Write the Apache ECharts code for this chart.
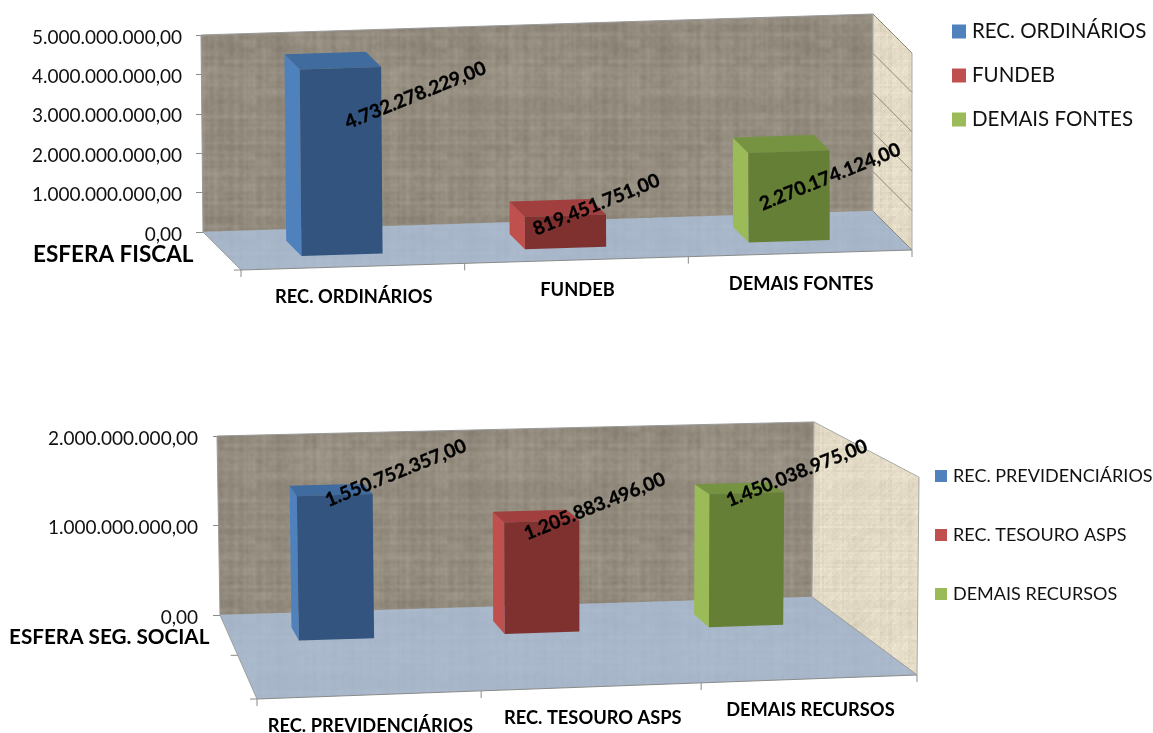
<!DOCTYPE html>
<html lang="pt-BR">
<head>
<meta charset="utf-8">
<title>Receitas por fonte</title>
<style>
  html, body { margin: 0; padding: 0; background: #fff; }
  #chart { width: 1153px; height: 733px; }
</style>
<script src="https://cdn.jsdelivr.net/npm/echarts@6/dist/echarts.min.js"></script>
</head>
<body>
<div id="chart"></div>
<script>
// Values for each sphere of the budget
const fiscalCategories = ['REC. ORDINÁRIOS', 'FUNDEB', 'DEMAIS FONTES'];
const fiscalValues = [4732278229, 819451751, 2270174124];
const fiscalTicks = [0, 1000000000, 2000000000, 3000000000, 4000000000, 5000000000];

const socialCategories = ['REC. PREVIDENCIÁRIOS', 'REC. TESOURO ASPS', 'DEMAIS RECURSOS'];
const socialValues = [1550752357, 1205883496, 1450038975];
const socialTicks = [0, 1000000000, 2000000000];

const FONT = 'Lato, "Open Sans", sans-serif';

// Shading of each column: front, top and left faces, plus the legend swatch
const faces = [
  { swatch: '#4F81BD', front: '#32547E', top: '#3F6B9F', side: '#4F81BD' },
  { swatch: '#C0504D', front: '#7F3130', top: '#A03F3D', side: '#C0504D' },
  { swatch: '#9BBB59', front: '#667F36', top: '#759340', side: '#9BBB59' }
];

// Woven fill used by the walls and the floor, built from a repeatable hash and softened
function weave(rgb, amount, diagonal, soften) {
  const size = 192;
  const raw = document.createElement('canvas');
  raw.width = raw.height = size;
  const g = raw.getContext('2d');
  const hash = (a, b) => {
    const s = Math.sin(a * 12.9898 + b * 78.233) * 43758.5453;
    return s - Math.floor(s);
  };
  const img = g.createImageData(size, size);
  for (let y = 0; y < size; y++) {
    for (let x = 0; x < size; x++) {
      const col = hash(x >> 1, 3) - 0.5;
      const row = hash(7, y >> 1) - 0.5;
      const fine = hash(x >> 1, y >> 1) - 0.5;
      const patch = hash(x >> 4, y >> 3) - 0.5;
      const diag = diagonal ? hash((x + y) % size, 11) - 0.5 : 0;
      const d = amount * (col * 0.7 + row * 0.7 + fine * 0.6 + patch * 0.4 + diag * 0.6);
      const i = (x + y * size) * 4;
      img.data[i] = rgb[0] + d;
      img.data[i + 1] = rgb[1] + d;
      img.data[i + 2] = rgb[2] + d;
      img.data[i + 3] = 255;
    }
  }
  g.putImageData(img, 0, 0);

  const out = document.createElement('canvas');
  out.width = out.height = size;
  const o = out.getContext('2d');
  o.fillStyle = 'rgb(' + rgb.join(',') + ')';
  o.fillRect(0, 0, size, size);
  o.filter = 'blur(' + soften + 'px)';
  // Draw wrapped copies so the softened tile still repeats without seams
  for (let ox = -size; ox <= size; ox += size) {
    for (let oy = -size; oy <= size; oy += size) {
      o.drawImage(raw, ox, oy);
    }
  }
  return { image: out, repeat: 'repeat' };
}
const backWallFill = weave([149, 142, 128], 20, false, 0.9);
const sideWallFill = weave([226, 218, 196], 12, true, 0.7);
const floorFill = weave([168, 184, 202], 6, false, 1);

function money(v) {
  const whole = String(Math.round(v)).replace(/\B(?=(\d{3})+$)/g, '.');
  return whole + ',00';
}

const lerp = (a, b, t) => a + (b - a) * t;

// Scene set-up of one chart: the grid is the back wall, straightened
const scenes = [
  {
    categories: fiscalCategories, values: fiscalValues, ticks: fiscalTicks, maxValue: 5000000000,
    grid: { left: 203, top: 35, width: 670, height: 197 },
    rise: 21, heightRight: 1, lean: [-2, 0], shiftX: [38, 39], shiftY: [38, 39], grow: 0, bend: 0,
    barDepth: [0.29, 0.69], barRatio: 0.363, barShift: 1, depthTicks: [1], sideLines: true,
    labelNudge: [[76, 27], [32, -11], [42, 25]],
    legendPos: { left: 952, top: 21 }, legendIcon: 14, legendGap: 23, legendFont: 20.5,
    title: 'ESFERA FISCAL', titlePos: { left: 33, top: 243 }, titleFont: 22.5,
    tickMargin: 21, footDrop: 30.5
  },
  {
    categories: socialCategories, values: socialValues, ticks: socialTicks, maxValue: 2000000000,
    grid: { left: 220, top: 436, width: 592, height: 179 },
    rise: 18, heightRight: 0.978, lean: [-3, 2], shiftX: [37, 105], shiftY: [84, 78], grow: 0.13, bend: 4.8,
    barDepth: [0.17, 0.33], barRatio: 0.365, barShift: 1, depthTicks: [0.48, 1], sideLines: false,
    labelNudge: [[62, -22], [54, -15], [51, -20]],
    legendPos: { left: 935, top: 467 }, legendIcon: 12, legendGap: 41, legendFont: 18,
    title: 'ESFERA SEG. SOCIAL', titlePos: { left: 9, top: 627 }, titleFont: 20.7,
    tickMargin: 22, footDrop: 31
  }
];

// Carries a point of the straightened wall into the tilted scene; depth runs 0 (back) to 1 (front)
function projector(scene, rect) {
  const y0 = rect.y + rect.height;
  return function (x, y, depth) {
    const u = (x - rect.x) / rect.width;
    const h = y0 - y;
    const px = x + lerp(scene.lean[0], scene.lean[1], u) * (h / rect.height)
      + (lerp(scene.shiftX[0], scene.shiftX[1], u) + scene.bend * Math.sin(Math.PI * u)) * depth;
    const py = y0 - scene.rise * u + lerp(scene.shiftY[0], scene.shiftY[1], u) * depth
      - h * lerp(1, scene.heightRight, u) * (1 + scene.grow * depth);
    return [px, py];
  };
}

function poly(points, fill, stroke) {
  return {
    type: 'polygon',
    shape: { points: points },
    style: { fill: fill, stroke: stroke || null, lineWidth: stroke ? 1 : 0 },
    silent: true
  };
}
function line(a, b, color) {
  return {
    type: 'line',
    shape: { x1: a[0], y1: a[1], x2: b[0], y2: b[1] },
    style: { stroke: color, lineWidth: 1 },
    silent: true
  };
}

// Walls, floor and the tick marks of the depth and category axes
function renderRoom(scene) {
  return function (params, api) {
    const r = params.coordSys;
    const P = projector(scene, r);
    const xL = r.x, xR = r.x + r.width, yB = r.y + r.height, yT = r.y;
    const edge = '#8a8a8a';
    const kids = [
      poly([P(xL, yT, 0), P(xR, yT, 0), P(xR, yB, 0), P(xL, yB, 0)], backWallFill, '#9a9a9a'),
      poly([P(xR, yT, 0), P(xR, yT, 1), P(xR, yB, 1), P(xR, yB, 0)], sideWallFill, '#a8a8a8'),
      poly([P(xL, yB, 0), P(xR, yB, 0), P(xR, yB, 1), P(xL, yB, 1)], floorFill)
    ];
    kids.push(line(P(xL, yB, 1), P(xR, yB, 1), edge));
    kids.push(line(P(xL, yB, 0), P(xL, yB, 1), '#a0a0a0'));
    kids.push(line(P(xR, yB, 0), P(xR, yB, 1), '#a0a0a0'));
    if (scene.sideLines) {
      scene.ticks.forEach(function (t) {
        const y = api.coord([0, t])[1];
        kids.push(line(P(xR, y, 0), P(xR, y, 1), '#8f8a7c'));
      });
    }
    const band = r.width / scene.categories.length;
    for (let i = 0; i <= scene.categories.length; i++) {
      const p = P(xL + band * i, yB, 1);
      kids.push(line(p, [p[0], p[1] + 7], edge));
    }
    scene.depthTicks.forEach(function (d) {
      const p = P(xL, yB, d);
      kids.push(line(p, [p[0] - 7, p[1]], edge));
    });
    return { type: 'group', children: kids };
  };
}

// One column with its rotated value label and its category label under the floor
function renderColumn(scene, index) {
  const shade = faces[index];
  return function (params, api) {
    const r = params.coordSys;
    const P = projector(scene, r);
    const cat = api.value(0), val = api.value(1);
    const base = api.coord([cat, 0]);
    const topPt = api.coord([cat, val]);
    const half = api.size([1, 0])[0] * scene.barRatio / 2;
    const mid = base[0] + scene.barShift;
    const x0 = mid - half, x1 = mid + half;
    const yT = topPt[1], yB = base[1];
    const back = scene.barDepth[0], front = scene.barDepth[1];

    const frontCentreTop = P(base[0], yT, front);
    const nudge = scene.labelNudge[index];
    const foot = P(base[0], yB, 1);

    return {
      type: 'group',
      children: [
        poly([P(x0, yT, back), P(x0, yT, front), P(x0, yB, front), P(x0, yB, back)], shade.side),
        poly([P(x0, yT, back), P(x1, yT, back), P(x1, yT, front), P(x0, yT, front)], shade.top),
        poly([P(x0, yT, front), P(x1, yT, front), P(x1, yB, front), P(x0, yB, front)], shade.front),
        {
          type: 'text',
          x: frontCentreTop[0] + nudge[0],
          y: frontCentreTop[1] + nudge[1],
          rotation: 22 * Math.PI / 180,
          z2: 10,
          silent: true,
          style: {
            text: money(val), x: 0, y: 0, align: 'center', verticalAlign: 'middle',
            font: 'bold 19px ' + FONT, fill: '#000', stroke: '#000', lineWidth: 0.35
          }
        },
        {
          type: 'text',
          x: foot[0] + 1,
          y: foot[1] + scene.footDrop,
          silent: true,
          style: {
            text: scene.categories[cat], x: 0, y: 0, align: 'center', verticalAlign: 'middle',
            font: 'bold 18.3px ' + FONT, fill: '#000'
          }
        }
      ]
    };
  };
}

const option = {
  animation: false,
  backgroundColor: '#ffffff',
  textStyle: { fontFamily: FONT },
  title: scenes.map(function (s) {
    return Object.assign({
      text: s.title, padding: 0,
      textStyle: { fontFamily: FONT, fontWeight: 'bold', fontSize: s.titleFont, color: '#000' }
    }, s.titlePos);
  }),
  legend: scenes.map(function (s) {
    return Object.assign({
      orient: 'vertical', icon: 'rect', padding: 0, selectedMode: false,
      itemWidth: s.legendIcon, itemHeight: s.legendIcon, itemGap: s.legendGap, data: s.categories,
      textStyle: { fontFamily: FONT, fontSize: s.legendFont, color: '#111', padding: [0, 0, 0, 1] }
    }, s.legendPos);
  }),
  grid: scenes.map(function (s) { return Object.assign({ containLabel: false }, s.grid); }),
  xAxis: scenes.map(function (s, i) {
    return { type: 'category', gridIndex: i, data: s.categories, show: false };
  }),
  yAxis: scenes.map(function (s, i) {
    return {
      type: 'value', gridIndex: i, min: 0, max: s.maxValue, interval: 1000000000,
      axisLine: { show: false },
      splitLine: { show: false },
      axisTick: { show: true, length: 7, lineStyle: { color: '#8a8a8a' } },
      axisLabel: {
        margin: s.tickMargin, fontFamily: FONT, fontSize: 19, color: '#111',
        verticalAlign: 'top', lineHeight: 5,
        formatter: money
      }
    };
  }),
  series: []
};

scenes.forEach(function (s, i) {
  option.series.push({
    type: 'custom', name: 'ambiente', coordinateSystem: 'cartesian2d', silent: true,
    xAxisIndex: i, yAxisIndex: i, z: 1,
    renderItem: renderRoom(s), data: [[0, 0]]
  });
  s.categories.forEach(function (name, k) {
    option.series.push({
      type: 'custom', name: name, coordinateSystem: 'cartesian2d', silent: true,
      xAxisIndex: i, yAxisIndex: i, z: 2,
      encode: { x: 0, y: 1 },
      itemStyle: { color: faces[k].swatch },
      renderItem: renderColumn(s, k), data: [[k, s.values[k]]]
    });
  });
});

echarts.init(document.getElementById('chart')).setOption(option);
</script>
</body>
</html>
